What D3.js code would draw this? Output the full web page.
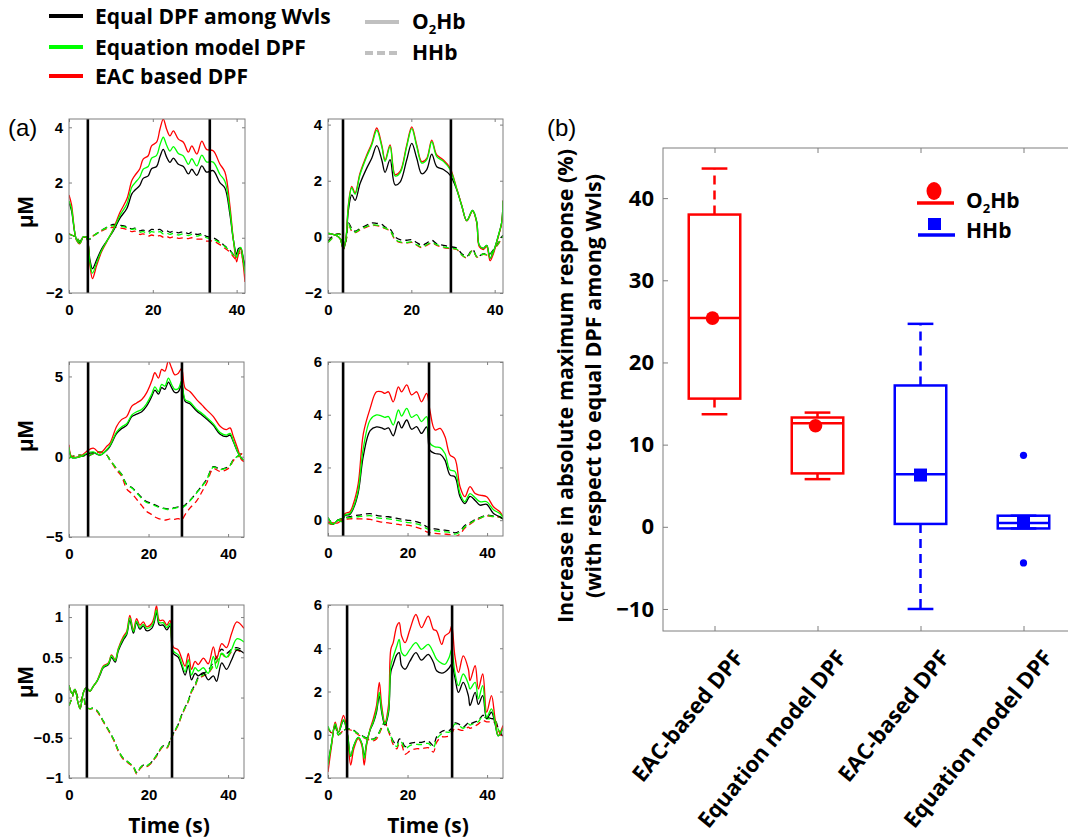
<!DOCTYPE html>
<html>
<head>
<meta charset="utf-8">
<script src="https://cdn.jsdelivr.net/npm/d3@7"></script>
<style>
  html, body { margin: 0; padding: 0; background: #fff; }
  svg { display: block; }
</style>
</head>
<body>
<script>
// ---------- (a) time courses: knot times and concentration changes (µM) ----------
// naming: o2 = O2Hb, hh = HHb; Eq = equal DPF among wavelengths, Mod = equation model DPF, Eac = EAC based DPF
const tA1 = [0, 0.6, 1.8, 2.6, 3.4, 4.2, 5.0, 5.6, 6.6, 7.8, 9.0, 10.6, 12.2, 13.8, 15.0, 15.7, 16.9, 17.7, 18.9, 19.7, 20.9, 21.7, 22.5, 23.3, 24.1, 24.9, 26.1, 27.3, 28.5, 29.3, 30.5, 31.7, 32.8, 34.4, 36.0, 37.2, 38.4, 39.2, 40.0, 40.4, 41.0, 41.6, 42.0];
const o2EacA1 = [1.55, 1.2, -0.1, -0.22, 0.03, 0, -1.0, -1.48, -1.0, -0.5, -0.15, 0.33, 0.93, 1.4, 2.07, 2.25, 2.5, 2.85, 2.97, 3.33, 3.46, 3.93, 4.3, 3.93, 3.69, 3.87, 3.57, 3.46, 3.1, 3.33, 3.03, 3.5, 3.2, 3.15, 2.67, 2.38, 1.16, -0.04, -0.87, -0.6, -0.4, -1.0, -1.6];
const o2ModA1 = [1.33, 1.05, -0.08, -0.2, 0.03, 0, -0.9, -1.28, -0.9, -0.45, -0.13, 0.3, 0.82, 1.22, 1.84, 1.98, 2.2, 2.48, 2.58, 2.88, 2.98, 3.36, 3.64, 3.35, 3.14, 3.3, 3.05, 2.96, 2.66, 2.86, 2.6, 2.99, 2.75, 2.74, 2.3, 2.05, 0.98, -0.05, -0.72, -0.5, -0.35, -0.85, -1.3];
const o2EqA1 = [1.27, 0.98, -0.07, -0.18, 0.03, 0, -0.8, -1.12, -0.8, -0.4, -0.12, 0.26, 0.72, 1.06, 1.59, 1.72, 1.9, 2.15, 2.24, 2.5, 2.58, 2.93, 3.2, 2.92, 2.73, 2.88, 2.66, 2.58, 2.31, 2.48, 2.26, 2.6, 2.38, 2.43, 2.0, 1.8, 0.85, -0.05, -0.6, -0.4, -0.38, -0.75, -1.05];
const hhEqA1 = [0.12, 0.1, 0.0, -0.12, 0.0, 0.02, -0.05, 0.05, 0.15, 0.27, 0.38, 0.48, 0.45, 0.4, 0.32, 0.35, 0.25, 0.28, 0.22, 0.3, 0.28, 0.3, 0.22, 0.25, 0.2, 0.24, 0.18, 0.22, 0.15, 0.2, 0.12, 0.15, 0.05, 0.0, -0.15, -0.3, -0.45, -0.6, -0.7, -0.45, -0.45, -0.8, -1.0];
const hhModA1 = [0.13, 0.1, 0.0, -0.13, 0.0, 0.02, -0.03, 0.05, 0.15, 0.27, 0.37, 0.44, 0.42, 0.37, 0.3, 0.32, 0.2, 0.22, 0.15, 0.22, 0.18, 0.22, 0.14, 0.17, 0.12, 0.16, 0.1, 0.14, 0.08, 0.12, 0.06, 0.1, 0.0, -0.05, -0.18, -0.32, -0.47, -0.62, -0.72, -0.5, -0.5, -0.85, -1.05];
const hhEacA1 = [0.15, 0.1, 0.0, -0.15, 0.0, 0.02, -0.03, 0.05, 0.15, 0.25, 0.33, 0.38, 0.35, 0.3, 0.22, 0.24, 0.12, 0.14, 0.06, 0.1, 0.05, 0.08, 0.02, 0.05, 0.0, 0.03, -0.02, 0.0, -0.03, 0.0, -0.05, -0.05, -0.12, -0.12, -0.25, -0.38, -0.52, -0.68, -0.8, -0.6, -0.55, -0.95, -1.2];

const tA2 = [0, 1, 2, 2.9, 3.7, 4.3, 4.9, 5.7, 6.5, 7.7, 9.3, 10.5, 11.7, 12.9, 13.7, 14.9, 16.1, 17.3, 18.9, 20.1, 21.3, 22.5, 23.7, 24.9, 26.1, 27.7, 29.3, 30.9, 32.1, 33.3, 34.7, 35.7, 36.3, 37.3, 38.1, 38.9, 39.7, 40.9, 41.7, 42];
const o2EacA2 = [0.12, 0.1, 0.05, -0.06, -0.43, -0.06, 1.15, 1.8, 1.57, 2.28, 2.92, 3.33, 3.88, 3.28, 2.74, 3.28, 2.22, 2.33, 3.28, 3.92, 3.28, 2.68, 2.8, 3.45, 2.92, 2.74, 2.45, 1.72, 1.12, 0.57, 0.92, 0.5, -0.35, -0.45, -0.35, -0.85, -0.6, 0.02, 0.5, 1.3];
const o2ModA2 = [0.12, 0.1, 0.05, -0.06, -0.41, -0.06, 1.1, 1.75, 1.52, 2.22, 2.86, 3.27, 3.8, 3.22, 2.69, 3.22, 2.17, 2.28, 3.22, 3.86, 3.22, 2.63, 2.75, 3.39, 2.86, 2.69, 2.4, 1.7, 1.11, 0.58, 0.94, 0.53, -0.3, -0.41, -0.3, -0.76, -0.53, 0.05, 0.53, 1.29];
const o2EqA2 = [0.12, 0.1, 0.05, -0.06, -0.45, -0.1, 0.95, 1.5, 1.3, 1.9, 2.45, 2.8, 3.25, 2.75, 2.3, 2.75, 1.85, 1.95, 2.75, 3.33, 2.8, 2.25, 2.4, 2.95, 2.5, 2.4, 2.2, 1.68, 1.11, 0.58, 0.94, 0.53, -0.3, -0.41, -0.3, -0.76, -0.53, 0.05, 0.53, 1.29];
const hhEqA2 = [-0.15, 0.0, 0.1, 0.1, -0.3, -0.15, 0.5, 0.3, 0.2, 0.3, 0.42, 0.5, 0.48, 0.45, 0.35, 0.28, 0.0, -0.1, -0.12, -0.1, -0.2, -0.3, -0.22, -0.12, -0.25, -0.3, -0.35, -0.4, -0.6, -0.7, -0.45, -0.7, -0.68, -0.6, -0.62, -0.6, -0.45, -0.2, 0.0, 0.05];
const hhModA2 = [-0.2, -0.05, 0.08, 0.08, -0.3, -0.15, 0.47, 0.22, 0.17, 0.27, 0.37, 0.42, 0.42, 0.37, 0.31, 0.22, -0.08, -0.18, -0.2, -0.18, -0.28, -0.36, -0.28, -0.2, -0.28, -0.36, -0.4, -0.44, -0.64, -0.74, -0.47, -0.71, -0.69, -0.61, -0.64, -0.63, -0.48, -0.23, -0.03, 0.02];
const hhEacA2 = [-0.2, -0.05, 0.08, 0.08, -0.3, -0.15, 0.45, 0.2, 0.15, 0.25, 0.35, 0.4, 0.4, 0.35, 0.3, 0.2, -0.1, -0.2, -0.22, -0.2, -0.3, -0.38, -0.3, -0.22, -0.3, -0.38, -0.42, -0.45, -0.65, -0.75, -0.48, -0.72, -0.7, -0.62, -0.65, -0.65, -0.5, -0.25, -0.05, 0.0];

const tB1 = [0, 0.7, 2.8, 4.4, 6.1, 7.8, 9.5, 10.3, 12.0, 13.2, 14.5, 15.8, 17.0, 18.3, 19.5, 20.8, 21.6, 22.5, 23.3, 24.1, 25.0, 25.8, 26.6, 27.5, 28.3, 29.2, 30.4, 32.1, 33.4, 34.6, 36.3, 38.0, 39.6, 40.5, 41.3, 42.5, 43.4, 44];
const o2EacB1 = [0.75, 0.02, 0.02, 0.33, 0.54, 0.23, 0.65, 0.85, 1.9, 2.31, 2.5, 3.15, 3.35, 3.56, 3.98, 4.71, 5.23, 4.9, 5.44, 5.33, 5.96, 5.52, 5.1, 5.2, 5.5, 4.27, 4.06, 3.56, 3.23, 2.92, 2.5, 1.9, 1.69, 1.8, 1.27, 0.44, -0.2, -0.3];
const o2ModB1 = [0.6, -0.05, 0.0, 0.2, 0.3, 0.1, 0.45, 0.7, 1.55, 1.85, 2.05, 2.6, 2.8, 2.95, 3.3, 3.9, 4.35, 4.05, 4.5, 4.4, 4.9, 4.5, 4.2, 4.25, 4.7, 3.55, 3.4, 2.95, 2.7, 2.45, 2.05, 1.5, 1.35, 1.45, 1.0, 0.25, -0.1, -0.2];
const o2EqB1 = [0.55, -0.05, 0.0, 0.15, 0.25, 0.1, 0.4, 0.65, 1.45, 1.75, 1.95, 2.5, 2.65, 2.8, 3.15, 3.75, 4.15, 3.9, 4.3, 4.2, 4.65, 4.3, 4.0, 4.05, 4.5, 3.45, 3.3, 2.85, 2.6, 2.35, 1.95, 1.4, 1.25, 1.35, 0.95, 0.25, -0.1, -0.2];
const hhEqB1 = [-0.1, 0.0, 0.1, 0.0, 0.2, 0.3, 0.1, -0.2, -0.75, -1.08, -1.72, -1.92, -2.2, -2.55, -2.8, -2.9, -3.0, -3.1, -3.18, -3.22, -3.25, -3.2, -3.18, -3.12, -3.15, -3.0, -2.72, -2.22, -1.82, -1.42, -0.62, -0.78, -0.68, -0.52, -0.2, 0.05, 0.2, 0.25];
const hhModB1 = [-0.1, 0.0, 0.1, 0.0, 0.2, 0.3, 0.1, -0.2, -0.75, -1.1, -1.75, -1.95, -2.25, -2.6, -2.85, -2.95, -3.05, -3.15, -3.2, -3.25, -3.3, -3.25, -3.2, -3.15, -3.2, -3.05, -2.75, -2.25, -1.85, -1.44, -0.65, -0.8, -0.7, -0.55, -0.2, 0.05, 0.2, 0.25];
const hhEacB1 = [-0.1, 0.0, 0.1, 0.0, 0.2, 0.3, 0.1, -0.2, -0.85, -1.2, -2.0, -2.3, -2.65, -3.05, -3.4, -3.6, -3.75, -3.85, -3.9, -3.95, -3.9, -3.85, -3.9, -3.85, -3.95, -3.6, -3.2, -2.75, -2.2, -1.65, -0.75, -0.92, -0.8, -0.62, -0.25, 0.0, 0.18, 0.25];

const tB2 = [0, 1.3, 2.5, 3.4, 4.3, 5.5, 6.4, 7.6, 8.9, 10.6, 12.2, 13.5, 14.3, 15.2, 16.4, 17.7, 18.5, 19.8, 21.0, 22.3, 23.5, 24.8, 25.6, 26.9, 28.2, 29.4, 30.7, 31.9, 33.2, 34.4, 35.7, 37.0, 38.2, 39.9, 41.6, 43.2, 44];
const o2EacB2 = [-0.06, -0.1, -0.1, 0.0, 0.25, 0.32, 0.63, 1.39, 3.29, 4.24, 4.87, 4.87, 4.81, 4.87, 4.49, 5.06, 4.87, 5.13, 4.75, 4.87, 4.49, 4.81, 4.18, 3.42, 3.48, 3.17, 2.47, 2.34, 1.27, 0.89, 1.27, 1.01, 0.95, 0.89, 0.51, 0.32, 0.13];
const o2ModB2 = [0.1, -0.15, 0.0, -0.05, 0.2, 0.25, 0.5, 1.15, 2.75, 3.8, 3.99, 3.95, 3.9, 3.93, 3.61, 4.18, 3.95, 4.24, 3.9, 4.0, 3.74, 3.93, 2.92, 2.78, 2.75, 2.53, 1.9, 1.85, 1.01, 0.7, 1.01, 0.85, 0.7, 0.7, 0.4, 0.25, 0.1];
const o2EqB2 = [0.1, -0.15, 0.0, -0.05, 0.18, 0.22, 0.45, 1.05, 2.45, 3.4, 3.54, 3.5, 3.45, 3.5, 3.2, 3.74, 3.5, 3.8, 3.45, 3.55, 3.29, 3.54, 2.66, 2.53, 2.5, 2.28, 1.71, 1.65, 0.89, 0.63, 0.9, 0.75, 0.57, 0.6, 0.25, 0.13, 0.05];
const hhEqB2 = [-0.1, -0.13, 0.0, 0.06, 0.1, 0.13, 0.17, 0.19, 0.22, 0.25, 0.18, 0.15, 0.14, 0.13, 0.1, 0.06, 0.04, 0.0, -0.02, -0.06, -0.12, -0.25, -0.28, -0.33, -0.36, -0.38, -0.41, -0.48, -0.4, -0.2, -0.1, 0.02, 0.1, 0.19, 0.15, 0.12, 0.05];
const hhModB2 = [-0.1, -0.13, 0.0, 0.05, 0.08, 0.1, 0.12, 0.13, 0.15, 0.17, 0.1, 0.07, 0.06, 0.05, 0.02, -0.02, -0.04, -0.08, -0.1, -0.14, -0.2, -0.32, -0.35, -0.4, -0.42, -0.44, -0.47, -0.53, -0.45, -0.25, -0.12, 0.0, 0.08, 0.17, 0.14, 0.12, 0.05];
const hhEacB2 = [-0.12, -0.15, -0.02, 0.03, 0.04, 0.05, 0.06, 0.05, 0.05, 0.03, -0.04, -0.07, -0.09, -0.1, -0.13, -0.16, -0.18, -0.19, -0.22, -0.27, -0.33, -0.44, -0.47, -0.5, -0.52, -0.53, -0.55, -0.63, -0.52, -0.3, -0.15, -0.02, 0.07, 0.16, 0.13, 0.12, 0.05];

const tC1 = [0, 0.8, 1.5, 2.2, 2.8, 3.6, 4.3, 5.3, 6.1, 7.0, 7.8, 8.6, 9.9, 10.7, 11.6, 12.4, 13.7, 14.5, 15.3, 16.2, 17.0, 17.8, 18.7, 19.5, 20.8, 21.4, 22.0, 22.7, 23.7, 24.6, 25.4, 26.2, 27.5, 28.3, 29.2, 30.0, 30.8, 31.7, 32.5, 33.8, 35.0, 36.3, 37.1, 38.4, 39.6, 40.9, 42.2, 44];
const o2EacC1 = [0.15, 0.05, 0.1, -0.05, -0.14, 0.06, 0.12, 0.08, 0.14, 0.2, 0.3, 0.39, 0.43, 0.53, 0.47, 0.61, 0.76, 0.82, 1.02, 0.84, 0.98, 0.9, 0.94, 0.88, 0.92, 1.0, 1.14, 0.96, 0.96, 0.9, 0.96, 0.63, 0.59, 0.49, 0.39, 0.55, 0.35, 0.45, 0.41, 0.49, 0.42, 0.63, 0.48, 0.67, 0.62, 0.8, 0.94, 0.86];
const o2ModC1 = [0.15, 0.05, 0.1, -0.05, -0.14, 0.06, 0.12, 0.08, 0.14, 0.2, 0.29, 0.38, 0.42, 0.52, 0.46, 0.6, 0.74, 0.8, 0.99, 0.82, 0.95, 0.87, 0.91, 0.86, 0.89, 0.96, 1.09, 0.93, 0.93, 0.87, 0.92, 0.58, 0.53, 0.43, 0.32, 0.47, 0.28, 0.37, 0.33, 0.37, 0.3, 0.51, 0.36, 0.55, 0.5, 0.6, 0.73, 0.69];
const o2EqC1 = [0.15, 0.05, 0.1, -0.05, -0.14, 0.06, 0.12, 0.08, 0.14, 0.2, 0.28, 0.37, 0.41, 0.5, 0.44, 0.58, 0.72, 0.78, 0.96, 0.8, 0.93, 0.85, 0.89, 0.83, 0.86, 0.93, 1.06, 0.9, 0.9, 0.84, 0.89, 0.55, 0.5, 0.4, 0.28, 0.4, 0.22, 0.3, 0.27, 0.31, 0.22, 0.27, 0.2, 0.43, 0.35, 0.47, 0.59, 0.55];
const hhEqC1 = [-0.1, 0.0, 0.1, 0.0, -0.05, 0.02, -0.12, -0.14, -0.13, -0.16, -0.22, -0.29, -0.4, -0.47, -0.56, -0.66, -0.76, -0.79, -0.82, -0.86, -0.93, -0.88, -0.84, -0.85, -0.8, -0.76, -0.72, -0.66, -0.6, -0.62, -0.54, -0.45, -0.33, -0.22, -0.12, -0.04, 0.08, 0.16, 0.25, 0.3, 0.34, 0.44, 0.5, 0.6, 0.55, 0.6, 0.62, 0.58];
const hhModC1 = [-0.1, 0.0, 0.1, 0.0, -0.05, 0.02, -0.12, -0.14, -0.13, -0.16, -0.22, -0.29, -0.4, -0.47, -0.56, -0.66, -0.76, -0.79, -0.82, -0.86, -0.94, -0.88, -0.84, -0.85, -0.8, -0.76, -0.72, -0.66, -0.6, -0.62, -0.54, -0.45, -0.33, -0.22, -0.12, -0.04, 0.08, 0.15, 0.24, 0.28, 0.31, 0.4, 0.45, 0.55, 0.5, 0.58, 0.6, 0.55];
const hhEacC1 = [-0.1, 0.0, 0.1, 0.0, -0.05, 0.02, -0.12, -0.14, -0.14, -0.17, -0.23, -0.3, -0.41, -0.48, -0.57, -0.67, -0.77, -0.8, -0.83, -0.87, -0.95, -0.89, -0.85, -0.86, -0.81, -0.77, -0.73, -0.67, -0.61, -0.63, -0.55, -0.46, -0.34, -0.23, -0.13, -0.05, 0.07, 0.14, 0.23, 0.27, 0.3, 0.39, 0.44, 0.54, 0.49, 0.57, 0.59, 0.54];

const tC2 = [0, 0.9, 1.8, 2.6, 3.9, 4.9, 5.7, 6.5, 7.6, 8.5, 9.1, 9.7, 10.6, 11.4, 12.2, 12.9, 13.5, 14.3, 15.2, 15.8, 16.4, 17.3, 17.9, 18.5, 19.4, 20.6, 22.1, 23.5, 25.2, 26.5, 27.3, 28.6, 29.4, 30.5, 31.1, 31.9, 32.8, 34.0, 35.3, 35.7, 37.0, 37.8, 38.9, 39.9, 41.1, 42.0, 42.8, 44];
const o2EacC2 = [-1.72, -0.5, 0.58, 0.12, 0.89, -0.03, -1.4, -0.64, -0.18, -0.49, -1.4, -0.49, 0.28, 0.74, 1.35, 2.42, 1.35, 0.58, 1.35, 3.95, 4.26, 5.03, 5.18, 4.57, 4.26, 4.87, 5.56, 4.95, 5.49, 4.87, 4.8, 4.18, 4.57, 4.72, 5.03, 3.65, 2.88, 3.65, 3.03, 2.5, 3.19, 2.12, 2.81, 1.04, 1.81, 0.74, -0.03, 0.43];
const o2ModC2 = [-1.4, -0.4, 0.5, 0.1, 0.7, 0.0, -1.0, -0.5, -0.12, -0.4, -1.1, -0.4, 0.25, 0.6, 1.15, 1.96, 1.15, 0.5, 1.1, 3.2, 3.6, 4.1, 4.41, 3.8, 3.65, 3.95, 4.26, 3.95, 4.18, 3.8, 3.5, 3.3, 3.26, 3.6, 3.95, 2.88, 2.27, 2.81, 2.35, 2.12, 2.42, 1.66, 2.27, 0.81, 1.2, 0.58, -0.05, 0.3];
const o2EqC2 = [-1.35, -0.4, 0.45, 0.1, 0.65, 0.0, -1.0, -0.5, -0.12, -0.4, -1.0, -0.4, 0.22, 0.55, 1.05, 1.8, 1.05, 0.45, 1.0, 2.9, 3.25, 3.7, 3.8, 3.19, 3.03, 3.4, 3.8, 3.45, 3.72, 3.35, 2.96, 2.85, 2.9, 3.1, 3.26, 2.65, 1.96, 2.42, 1.8, 1.35, 1.96, 1.4, 1.81, 0.74, 1.04, 0.5, -0.05, 0.3];
const hhEqC2 = [0.3, 0.1, 0.4, 0.0, 0.2, 0.28, 0.25, 0.2, 0.05, -0.03, -0.1, -0.15, -0.18, -0.2, -0.1, 0.12, 0.35, 0.58, 0.2, -0.05, -0.3, -0.45, -0.2, -0.25, -0.55, -0.4, -0.35, -0.35, -0.3, -0.5, -0.1, 0.15, 0.2, 0.2, 0.3, 0.55, 0.5, 0.35, 0.55, 0.5, 0.6, 0.65, 0.9, 0.8, 0.75, 0.7, 0.3, -0.1];
const hhModC2 = [0.4, 0.1, 0.35, 0.0, 0.2, 0.28, 0.25, 0.18, 0.03, -0.05, -0.12, -0.17, -0.2, -0.22, -0.12, 0.1, 0.35, 0.6, 0.2, -0.08, -0.35, -0.55, -0.3, -0.35, -0.65, -0.5, -0.45, -0.45, -0.4, -0.6, -0.2, 0.05, 0.12, 0.12, 0.22, 0.5, 0.45, 0.3, 0.5, 0.45, 0.55, 0.6, 0.85, 0.75, 0.72, 0.68, 0.25, -0.1];
const hhEacC2 = [0.3, 0.1, 0.35, 0.0, 0.2, 0.25, 0.22, 0.15, 0.0, -0.08, -0.15, -0.2, -0.25, -0.28, -0.2, 0.05, 0.3, 0.55, 0.15, -0.15, -0.45, -0.65, -0.4, -0.45, -0.9, -0.75, -0.65, -0.65, -0.6, -0.8, -0.35, -0.1, -0.1, -0.05, 0.05, 0.3, 0.25, 0.2, 0.35, 0.3, 0.4, 0.5, 0.66, 0.6, 0.6, 0.55, 0.2, -0.15];

// stimulus onset / offset (s) for each panel
const stimA1 = [4.5, 33.6], stimA2 = [3.6, 29.5];
const stimB1 = [4.8, 28.4], stimB2 = [3.8, 25.4];
const stimC1 = [4.5, 25.9], stimC2 = [4.8, 31.2];

// y tick values per panel
const yTicksA = [-2, 0, 2, 4];
const yTicksB1 = [-5, 0, 5];
const yTicksB2 = [0, 2, 4, 6];
const yTicksC1 = [-1, -0.5, 0, 0.5, 1];
const yTicksC2 = [-2, 0, 2, 4, 6];
const timeTicks = [0, 20, 40];

// ---------- (b) box plot summary (% increase in absolute maximum response) ----------
const boxLabels = ["EAC-based DPF", "Equation model DPF", "EAC-based DPF", "Equation model DPF"];
const boxSpecies = ["O2Hb", "O2Hb", "HHb", "HHb"];
const whiskerLow = [13.7, 5.8, -10.0, -0.2];
const quartile1 = [15.6, 6.5, 0.35, -0.2];
const medians = [25.4, 12.6, 6.4, 0.45];
const quartile3 = [38.0, 13.3, 17.2, 1.35];
const whiskerHigh = [43.6, 13.9, 24.7, 1.35];
const means = [25.4, 12.3, 6.3, 0.5];
const outliers = [[], [], [], [8.7, -4.4]];
const boxTicks = [-10, 0, 10, 20, 30, 40];

// ---------- drawing ----------
const W = 1068, H = 840;
const FONT_ARIAL = "'Liberation Sans', Arial, sans-serif";
const FONT_CAL = "'Open Sans', Lato, sans-serif";
const COLORS = { eq: "#000000", mod: "#00ff00", eac: "#ff0000" };
const AXIS_GREY = "#7f7f7f";

const svg = d3.select("body").append("svg")
  .attr("width", W).attr("height", H)
  .attr("viewBox", `0 0 ${W} ${H}`);
svg.append("rect").attr("width", W).attr("height", H).attr("fill", "#fff");

const fmtTick = v => (v < 0 ? "\u2212" : "") + String(Math.abs(v));

const panels = [
  { id: "A1", box: [69, 245, 119, 293], tMax: 42, yDom: [-2, 4.3], yTicks: yTicksA, t: tA1, stim: stimA1,
    o2: { eq: o2EqA1, mod: o2ModA1, eac: o2EacA1 }, hh: { eq: hhEqA1, mod: hhModA1, eac: hhEacA1 } },
  { id: "A2", box: [328, 503, 119, 293], tMax: 42, yDom: [-2, 4.2], yTicks: yTicksA, t: tA2, stim: stimA2,
    o2: { eq: o2EqA2, mod: o2ModA2, eac: o2EacA2 }, hh: { eq: hhEqA2, mod: hhModA2, eac: hhEacA2 } },
  { id: "B1", box: [69, 244, 362, 537], tMax: 44, yDom: [-5, 5.9], yTicks: yTicksB1, t: tB1, stim: stimB1,
    o2: { eq: o2EqB1, mod: o2ModB1, eac: o2EacB1 }, hh: { eq: hhEqB1, mod: hhModB1, eac: hhEacB1 } },
  { id: "B2", box: [328, 503, 362, 536], tMax: 44, yDom: [-0.6, 6], yTicks: yTicksB2, t: tB2, stim: stimB2,
    o2: { eq: o2EqB2, mod: o2ModB2, eac: o2EacB2 }, hh: { eq: hhEqB2, mod: hhModB2, eac: hhEacB2 } },
  { id: "C1", box: [69, 244, 605, 778], tMax: 44, yDom: [-1, 1.15], yTicks: yTicksC1, t: tC1, stim: stimC1,
    o2: { eq: o2EqC1, mod: o2ModC1, eac: o2EacC1 }, hh: { eq: hhEqC1, mod: hhModC1, eac: hhEacC1 } },
  { id: "C2", box: [328, 503, 605, 778], tMax: 44, yDom: [-2, 6], yTicks: yTicksC2, t: tC2, stim: stimC2,
    o2: { eq: o2EqC2, mod: o2ModC2, eac: o2EacC2 }, hh: { eq: hhEqC2, mod: hhModC2, eac: hhEacC2 } }
];

const defs = svg.append("defs");

function styleAxis(g, size) {
  g.select(".domain").remove();
  g.selectAll(".tick line").attr("stroke", AXIS_GREY).attr("stroke-width", 1);
  g.selectAll(".tick text")
    .attr("fill", "#000").attr("font-family", FONT_ARIAL)
    .attr("font-weight", "bold").attr("font-size", size);
}

panels.forEach(p => {
  const [x0, x1, y0, y1] = p.box;
  const x = d3.scaleLinear().domain([0, p.tMax]).range([x0, x1]);
  const y = d3.scaleLinear().domain(p.yDom).range([y1, y0]);
  const g = svg.append("g").attr("class", "panel-" + p.id);

  defs.append("clipPath").attr("id", "clip-" + p.id)
    .append("rect").attr("x", x0).attr("y", y0).attr("width", x1 - x0).attr("height", y1 - y0);

  // axes with inward ticks on all four sides
  const ax = g.append("g").attr("transform", `translate(0,${y1})`)
    .call(d3.axisBottom(x).tickValues(timeTicks).tickSizeInner(-3).tickSizeOuter(0).tickPadding(11).tickFormat(fmtTick));
  styleAxis(ax, 15);
  const axT = g.append("g").attr("transform", `translate(0,${y0})`)
    .call(d3.axisTop(x).tickValues(timeTicks).tickSizeInner(-3).tickSizeOuter(0).tickFormat(""));
  styleAxis(axT, 15);
  const ay = g.append("g").attr("transform", `translate(${x0},0)`)
    .call(d3.axisLeft(y).tickValues(p.yTicks).tickSizeInner(-3).tickSizeOuter(0).tickPadding(6).tickFormat(fmtTick));
  styleAxis(ay, 15);
  const ayR = g.append("g").attr("transform", `translate(${x1},0)`)
    .call(d3.axisRight(y).tickValues(p.yTicks).tickSizeInner(-3).tickSizeOuter(0).tickFormat(""));
  styleAxis(ayR, 15);

  const plot = g.append("g").attr("clip-path", `url(#clip-${p.id})`);
  const line = d3.line()
    .x((d, i) => x(p.t[i]))
    .y(d => y(d))
    .curve(d3.curveCatmullRom.alpha(0.5));

  ["eq", "eac", "mod"].forEach(k => {
    plot.append("path").datum(p.hh[k])
      .attr("d", line).attr("fill", "none")
      .attr("stroke", COLORS[k]).attr("stroke-width", 1.3)
      .attr("stroke-dasharray", "6,4");
  });
  ["eq", "eac", "mod"].forEach(k => {
    plot.append("path").datum(p.o2[k])
      .attr("d", line).attr("fill", "none")
      .attr("stroke", COLORS[k]).attr("stroke-width", 1.3);
  });

  // stimulus markers
  g.selectAll(".stim").data(p.stim).enter().append("line")
    .attr("x1", d => x(d)).attr("x2", d => x(d))
    .attr("y1", y0).attr("y2", y1)
    .attr("stroke", "#000").attr("stroke-width", 2.6);

  // frame
  g.append("rect").attr("x", x0).attr("y", y0).attr("width", x1 - x0).attr("height", y1 - y0)
    .attr("fill", "none").attr("stroke", AXIS_GREY).attr("stroke-width", 1);
});

// y-axis unit labels and x-axis labels of panel (a)
[212, 436, 682].forEach(cy => {
  svg.append("text")
    .attr("transform", `translate(33,${cy}) rotate(-90)`)
    .attr("text-anchor", "middle")
    .attr("font-family", FONT_ARIAL).attr("font-weight", "bold").attr("font-size", 22)
    .text("\u03bcM");
});
[169, 428].forEach(cx => {
  svg.append("text")
    .attr("x", cx).attr("y", 833)
    .attr("text-anchor", "middle")
    .attr("font-family", FONT_CAL).attr("font-weight", "bold").attr("font-size", 21)
    .text("Time (s)");
});

// panel letters
svg.append("text").attr("x", 8).attr("y", 136)
  .attr("font-family", FONT_ARIAL).attr("font-size", 24).text("(a)");
svg.append("text").attr("x", 547).attr("y", 136)
  .attr("font-family", FONT_ARIAL).attr("font-size", 24).text("(b)");

// ---------- top legend ----------
const legendItems = [
  { label: "Equal DPF among Wvls", color: COLORS.eq, y: 16 },
  { label: "Equation model DPF", color: COLORS.mod, y: 47 },
  { label: "EAC based DPF", color: COLORS.eac, y: 76 }
];
const lg = svg.append("g");
legendItems.forEach(it => {
  lg.append("line").attr("x1", 49).attr("x2", 83).attr("y1", it.y).attr("y2", it.y)
    .attr("stroke", it.color).attr("stroke-width", 4);
  lg.append("text").attr("x", 95).attr("y", it.y + 8)
    .attr("font-family", FONT_CAL).attr("font-weight", "bold").attr("font-size", 21)
    .text(it.label);
});
lg.append("line").attr("x1", 365).attr("x2", 399).attr("y1", 22).attr("y2", 22)
  .attr("stroke", "#c0c0c0").attr("stroke-width", 4);
lg.append("line").attr("x1", 365).attr("x2", 399).attr("y1", 53).attr("y2", 53)
  .attr("stroke", "#c0c0c0").attr("stroke-width", 4).attr("stroke-dasharray", "8,4");

function chemLabel(parent, xPos, yPos, name, size) {
  const t = parent.append("text").attr("x", xPos).attr("y", yPos)
    .attr("font-family", FONT_CAL).attr("font-weight", "bold").attr("font-size", size);
  if (name === "O2Hb") {
    t.append("tspan").text("O");
    t.append("tspan").attr("font-size", size * 0.62).attr("dy", size * 0.22).text("2");
    t.append("tspan").attr("dy", -size * 0.22).text("Hb");
  } else {
    t.text(name);
  }
  return t;
}
chemLabel(lg, 412, 29, "O2Hb", 21);
chemLabel(lg, 412, 60, "HHb", 21);

// ---------- (b) box plot ----------
const bx0 = 663, bx1 = 1075, by0 = 148, by1 = 631;
const xB = d3.scaleLinear().domain([0.5, 4.5]).range([bx0, bx1]);
const yB = d3.scaleLinear().domain([-12.68, 46.1]).range([by1, by0]);
const gb = svg.append("g").attr("class", "boxplot");

const axBL = gb.append("g").attr("transform", `translate(${bx0},0)`)
  .call(d3.axisLeft(yB).tickValues(boxTicks).tickSizeInner(-5).tickSizeOuter(0).tickPadding(9).tickFormat(fmtTick));
axBL.select(".domain").remove();
axBL.selectAll(".tick line").attr("stroke", AXIS_GREY);
axBL.selectAll(".tick text").attr("fill", "#000").attr("font-family", FONT_CAL)
  .attr("font-weight", "bold").attr("font-size", 22);

const axBB = gb.append("g").attr("transform", `translate(0,${by1})`)
  .call(d3.axisBottom(xB).tickValues([1, 2, 3, 4]).tickSizeInner(-5).tickSizeOuter(0).tickFormat(""));
axBB.select(".domain").remove();
axBB.selectAll(".tick line").attr("stroke", AXIS_GREY);
const axBT = gb.append("g").attr("transform", `translate(0,${by0})`)
  .call(d3.axisTop(xB).tickValues([1, 2, 3, 4]).tickSizeInner(-5).tickSizeOuter(0).tickFormat(""));
axBT.select(".domain").remove();
axBT.selectAll(".tick line").attr("stroke", AXIS_GREY);

gb.append("rect").attr("x", bx0).attr("y", by0).attr("width", bx1 - bx0).attr("height", by1 - by0)
  .attr("fill", "none").attr("stroke", AXIS_GREY).attr("stroke-width", 1);

const boxColor = s => s === "O2Hb" ? "#ff0000" : "#0000ff";
const halfBox = 0.25, halfCap = 0.125;
boxLabels.forEach((lab, i) => {
  const c = i + 1, col = boxColor(boxSpecies[i]);
  const g = gb.append("g");
  // whiskers
  [[quartile3[i], whiskerHigh[i]], [quartile1[i], whiskerLow[i]]].forEach(([a, b]) => {
    if (a !== b) {
      g.append("line").attr("x1", xB(c)).attr("x2", xB(c)).attr("y1", yB(a)).attr("y2", yB(b))
        .attr("stroke", col).attr("stroke-width", 2.5).attr("stroke-dasharray", "9,6");
    }
    g.append("line").attr("x1", xB(c - halfCap)).attr("x2", xB(c + halfCap)).attr("y1", yB(b)).attr("y2", yB(b))
      .attr("stroke", col).attr("stroke-width", 2.5);
  });
  // box and median
  g.append("rect").attr("x", xB(c - halfBox)).attr("width", xB(c + halfBox) - xB(c - halfBox))
    .attr("y", yB(quartile3[i])).attr("height", yB(quartile1[i]) - yB(quartile3[i]))
    .attr("fill", "none").attr("stroke", col).attr("stroke-width", 2.5);
  g.append("line").attr("x1", xB(c - halfBox)).attr("x2", xB(c + halfBox))
    .attr("y1", yB(medians[i])).attr("y2", yB(medians[i]))
    .attr("stroke", col).attr("stroke-width", 2.5);
  // mean marker
  if (boxSpecies[i] === "O2Hb") {
    g.append("circle").attr("cx", xB(c) - 2).attr("cy", yB(means[i])).attr("r", 6.8).attr("fill", col);
  } else {
    g.append("rect").attr("x", xB(c) - 6.5).attr("y", yB(means[i]) - 6.5)
      .attr("width", 13).attr("height", 13).attr("fill", col);
  }
  // outliers
  outliers[i].forEach(v => {
    g.append("circle").attr("cx", xB(c)).attr("cy", yB(v)).attr("r", 3.6).attr("fill", col);
  });
  // rotated category label
  gb.append("text")
    .attr("transform", `translate(${xB(c) + 30},${by1 + 27}) rotate(-51)`)
    .attr("text-anchor", "end")
    .attr("font-family", FONT_CAL).attr("font-weight", "bold").attr("font-size", 22)
    .text(lab);
});

// (b) y-axis title
[["Increase in absolute maximum response (%)", 573], ["(with respect to equal DPF among Wvls)", 601]].forEach(([txt, xp]) => {
  svg.append("text")
    .attr("transform", `translate(${xp},386) rotate(-90)`)
    .attr("text-anchor", "middle")
    .attr("font-family", FONT_CAL).attr("font-weight", "bold").attr("font-size", 21.5)
    .text(txt);
});

// (b) legend
const lb = svg.append("g");
lb.append("ellipse").attr("cx", 934).attr("cy", 191).attr("rx", 7.5).attr("ry", 9).attr("fill", "#ff0000");
lb.append("line").attr("x1", 917).attr("x2", 954).attr("y1", 203).attr("y2", 203)
  .attr("stroke", "#ff0000").attr("stroke-width", 3.5);
lb.append("rect").attr("x", 928).attr("y", 218).attr("width", 13).attr("height", 12).attr("fill", "#0000ff");
lb.append("line").attr("x1", 918).attr("x2", 955).attr("y1", 235).attr("y2", 235)
  .attr("stroke", "#0000ff").attr("stroke-width", 3.5);
chemLabel(lb, 966, 208, "O2Hb", 21);
chemLabel(lb, 966, 238, "HHb", 21);
</script>
</body>
</html>
